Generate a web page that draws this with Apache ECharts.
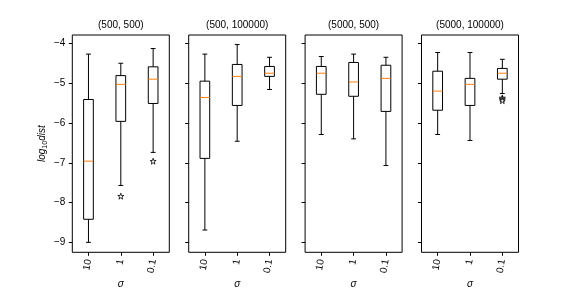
<!DOCTYPE html>
<html><head><meta charset="utf-8">
<script src="https://cdn.jsdelivr.net/npm/echarts@6/dist/echarts.min.js"></script>
<style>html,body{margin:0;padding:0;background:#fff}#c{width:576px;height:288px}</style>
</head><body><div id="c"></div>
<script>
// ---- data ----
const categories = ['10', '1', '0.1'];
const titles = ['(500, 500)', '(500, 100000)', '(5000, 500)', '(5000, 100000)'];
const yTicks = [-9, -8, -7, -6, -5, -4];
// each row: [low whisker, Q1, median, Q3, high whisker] for sigma = 10, 1, 0.1
const box500_500 = [
  [-9.00, -8.42, -6.96, -5.41, -4.27],
  [-7.57, -5.96, -5.03, -4.81, -4.50],
  [-6.74, -5.51, -4.90, -4.59, -4.13]
];
const box500_100000 = [
  [-8.69, -6.89, -5.36, -4.95, -4.27],
  [-6.46, -5.56, -4.83, -4.53, -4.03],
  [-5.16, -4.83, -4.75, -4.58, -4.35]
];
const box5000_500 = [
  [-6.29, -5.28, -4.75, -4.58, -4.33],
  [-6.40, -5.33, -4.97, -4.48, -4.27],
  [-7.07, -5.71, -4.88, -4.55, -4.35]
];
const box5000_100000 = [
  [-6.29, -5.68, -5.20, -4.70, -4.23],
  [-6.44, -5.56, -5.03, -4.88, -4.23],
  [-5.26, -4.90, -4.75, -4.63, -4.40]
];
// outliers: [category index, value]
const out500_500 = [[1, -7.84], [2, -6.96]];
const out500_100000 = [];
const out5000_500 = [];
const out5000_100000 = [[2, -5.37], [2, -5.40], [2, -5.44]];

const boxes = [box500_500, box500_100000, box5000_500, box5000_100000];
const outliers = [out500_500, out500_100000, out5000_500, out5000_100000];

// ---- layout ----
const lefts = [72.3, 188.7, 305.1, 421.5];
const gridW = 97, gridTop = 35, gridH = 217.3;
const FONT = '"Liberation Sans", Arial, sans-serif';
const STAR = 'path://M100 0 L122.45 69.1 L195.1 69.1 L136.33 111.8 L158.78 180.9 L100 138.2 L41.22 180.9 L63.67 111.8 L4.9 69.1 L77.55 69.1 Z';

function renderBox(params, api) {
  const idx = api.value(0);
  const lo = api.coord([idx, api.value(1)]);
  const q1 = api.coord([idx, api.value(2)]);
  const md = api.coord([idx, api.value(3)]);
  const q3 = api.coord([idx, api.value(4)]);
  const hi = api.coord([idx, api.value(5)]);
  const band = api.size([1, 0])[0];
  const bw = band * 0.3, cw = bw * 0.5;
  const x = lo[0];
  const ls = {stroke: '#000', lineWidth: 1, fill: null};
  return {type: 'group', children: [
    {type: 'rect', shape: {x: x - bw / 2, y: q3[1], width: bw, height: q1[1] - q3[1]}, style: {stroke: '#000', lineWidth: 1, fill: 'none'}},
    {type: 'line', shape: {x1: x, y1: q1[1], x2: x, y2: lo[1]}, style: ls},
    {type: 'line', shape: {x1: x, y1: q3[1], x2: x, y2: hi[1]}, style: ls},
    {type: 'line', shape: {x1: x - cw / 2, y1: lo[1], x2: x + cw / 2, y2: lo[1]}, style: ls},
    {type: 'line', shape: {x1: x - cw / 2, y1: hi[1], x2: x + cw / 2, y2: hi[1]}, style: ls},
    {type: 'line', shape: {x1: x - bw / 2, y1: md[1], x2: x + bw / 2, y2: md[1]}, style: {stroke: '#ff7f0e', lineWidth: 1}}
  ]};
}

const grid = [], xAxis = [], yAxis = [], series = [], title = [];
for (let i = 0; i < 4; i++) {
  grid.push({left: lefts[i], top: gridTop, width: gridW, height: gridH, show: true, borderColor: '#000', borderWidth: 1,
    backgroundColor: 'transparent', containLabel: false, outerBoundsMode: 'none'});
  title.push({text: titles[i], left: lefts[i] + gridW / 2, top: 20, textAlign: 'center', padding: 0,
    textStyle: {fontFamily: FONT, fontSize: 10, fontWeight: 'normal', color: '#000'}});
  xAxis.push({gridIndex: i, type: 'category', data: categories, boundaryGap: true,
    axisLine: {show: false}, axisTick: {show: true, alignWithLabel: true, length: 3.5, lineStyle: {color: '#000'}},
    axisLabel: {rotate: 80, margin: 7, fontFamily: FONT, fontSize: 10, color: '#000', interval: 0},
    splitLine: {show: false},
    name: 'σ', nameLocation: 'middle', nameGap: 27, nameMoveOverlap: false,
    nameTextStyle: {fontFamily: FONT, fontSize: 10, fontStyle: 'italic', color: '#000'}});
  yAxis.push({gridIndex: i, type: 'value', min: -9.25, max: -3.79,
    axisLine: {show: false}, splitLine: {show: false},
    axisTick: {show: true, length: 3.5, customValues: yTicks, lineStyle: {color: '#000'}},
    axisLabel: {show: i === 0, customValues: yTicks, margin: 7, fontFamily: FONT, fontSize: 10, color: '#000',
      formatter: v => (v < 0 ? '\u2212' + Math.abs(v) : String(v))},
    name: i === 0 ? '{a|log}{b|10}{a|dist}' : '', nameLocation: 'middle', nameRotate: 90, nameGap: 24, nameMoveOverlap: false,
    nameTextStyle: {fontFamily: FONT, fontSize: 10, color: '#000',
      rich: {a: {fontFamily: FONT, fontSize: 10, fontStyle: 'italic', color: '#000', lineHeight: 12},
             b: {fontFamily: FONT, fontSize: 7, color: '#000', verticalAlign: 'bottom', lineHeight: 12, padding: [4, 0, 0, 0]}}}});
  series.push({type: 'custom', xAxisIndex: i, yAxisIndex: i, renderItem: renderBox,
    encode: {x: 0, y: [1, 2, 3, 4, 5]},
    data: boxes[i].map((b, k) => [k].concat(b)), silent: true});
  series.push({type: 'scatter', xAxisIndex: i, yAxisIndex: i, symbol: STAR, symbolSize: 6,
    itemStyle: {color: '#fff', borderColor: '#000', borderWidth: 1}, data: outliers[i], silent: true});
}

const chart = echarts.init(document.getElementById('c'), null, {renderer: 'canvas'});
chart.setOption({animation: false, backgroundColor: '#fff', title, grid, xAxis, yAxis, series});
</script></body></html>
